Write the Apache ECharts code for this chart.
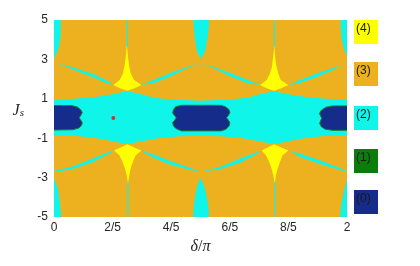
<!DOCTYPE html>
<html><head><meta charset="utf-8">
<script src="https://cdn.jsdelivr.net/npm/echarts@6/dist/echarts.min.js"></script>
<style>html,body{margin:0;padding:0;background:#fff}#c{width:420px;height:266px}</style>
</head><body><div id="c"></div>
<script>
// ---- data (x = delta/pi, y = J_s) ----
const X_TICKS = [0, 0.4, 0.8, 1.2, 1.6, 2];
const X_TICK_LABELS = ['0', '2/5', '4/5', '6/5', '8/5', '2'];
const Y_TICKS = [-5, -3, -1, 1, 3, 5];
const PHASE_LABELS = ['(4)', '(3)', '(2)', '(1)', '(0)'];

// phase (3): whole plane background
const PHASE3_AREA = [[[0,-5],[2,-5],[2,5],[0,5]]];

// phase (2): central band top and bottom boundaries
const BAND_TOP = [[0,0.93],[0.137,1.0],[0.273,1.08],[0.41,1.24],[0.47,1.35],[0.5,1.41],[0.53,1.35],[0.59,1.24],[0.683,1.05],[0.8,0.97],[1.0,0.9],[1.2,0.97],[1.32,1.05],[1.41,1.24],[1.47,1.35],[1.5,1.41],[1.53,1.35],[1.59,1.24],[1.73,1.08],[1.86,1.0],[2.0,0.95]];
const BAND_BOTTOM = [[0,-0.85],[0.137,-0.88],[0.273,-0.98],[0.41,-1.17],[0.47,-1.27],[0.5,-1.31],[0.53,-1.27],[0.59,-1.17],[0.73,-0.98],[0.86,-0.9],[1.0,-0.88],[1.14,-0.9],[1.27,-0.98],[1.41,-1.17],[1.47,-1.27],[1.5,-1.31],[1.53,-1.27],[1.59,-1.17],[1.73,-0.98],[1.86,-0.88],[2.0,-0.86]];
// phase (2): corner / edge pockets
const CYAN_TOP_LEFT = [[0,5],[0.047,5],[0.046,4.3],[0.042,3.98],[0.034,3.64],[0.018,3.31],[0,3.05]];
const CYAN_TOP_MID = [[0.951,5],[0.955,4.5],[0.962,3.98],[0.974,3.47],[0.988,3.22],[1.001,3.02],[1.019,3.22],[1.033,3.47],[1.046,3.98],[1.055,4.5],[1.06,5]];
const CYAN_TOP_RIGHT = [[2,5],[1.957,5],[1.958,4.5],[1.964,3.98],[1.982,3.47],[2,3.14]];
const CYAN_BOT_LEFT = [[0,-3.02],[0.027,-3.56],[0.04,-4.24],[0.05,-5],[0,-5]];
const CYAN_BOT_MID = [[0.951,-5],[0.953,-4.5],[0.962,-4.0],[0.974,-3.5],[0.988,-3.22],[1.0,-3.0],[1.013,-3.22],[1.028,-3.5],[1.043,-4.0],[1.055,-4.5],[1.058,-5]];
const CYAN_BOT_RIGHT = [[2,-3.05],[1.985,-3.5],[1.97,-4.0],[1.958,-4.5],[1.953,-5],[2,-5]];
// phase (2): thin slivers
const SLIVER_T1 = [[0,2.85],[0.137,2.58],[0.273,2.24],[0.364,1.92],[0.405,1.7],[0.364,1.78],[0.273,2.07],[0.137,2.46],[0.023,2.8]];
const SLIVER_T2 = [[0.596,1.7],[0.683,1.97],[0.79,2.3],[0.928,2.66],[1.0,2.8],[0.928,2.61],[0.79,2.12],[0.683,1.8],[0.62,1.72]];
const SLIVER_T3 = [[1.0,2.8],[1.072,2.66],[1.21,2.3],[1.32,1.97],[1.406,1.7],[1.38,1.72],[1.32,1.8],[1.21,2.12],[1.072,2.61]];
const SLIVER_T4 = [[1.602,1.7],[1.679,1.95],[1.793,2.29],[1.907,2.58],[2.0,2.83],[1.98,2.8],[1.907,2.48],[1.793,2.1],[1.679,1.8],[1.63,1.72]];
const SLIVER_B1 = [[0,-2.66],[0.137,-2.41],[0.273,-2.0],[0.364,-1.73],[0.414,-1.64],[0.364,-1.83],[0.273,-2.2],[0.137,-2.54],[0.023,-2.7]];
const SLIVER_B2 = [[0.596,-1.64],[0.683,-1.83],[0.79,-2.15],[0.928,-2.5],[1.0,-2.7],[0.928,-2.6],[0.79,-2.34],[0.683,-2.0],[0.62,-1.75]];
const SLIVER_B3 = [[1.0,-2.7],[1.133,-2.46],[1.27,-2.03],[1.361,-1.78],[1.418,-1.64],[1.361,-1.9],[1.27,-2.24],[1.133,-2.58]];
const SLIVER_B4 = [[1.6,-1.64],[1.679,-1.78],[1.816,-2.12],[1.952,-2.51],[2.0,-2.68],[1.98,-2.68],[1.952,-2.61],[1.816,-2.31],[1.679,-1.95],[1.63,-1.72]];
const LINE_T1 = [[0.496,3.6],[0.504,3.6],[0.504,5],[0.496,5]];
const LINE_T2 = [[1.5,3.6],[1.508,3.6],[1.508,5],[1.5,5]];
const LINE_B1 = [[0.501,-5],[0.509,-5],[0.509,-3.2],[0.501,-3.2]];
const LINE_B2 = [[1.503,-5],[1.511,-5],[1.511,-3.2],[1.503,-3.2]];

// phase (4): yellow cusped regions
const YELLOW_T1 = [[0.405,1.7],[0.448,1.95],[0.471,2.29],[0.48,2.63],[0.487,2.97],[0.492,3.31],[0.497,3.73],[0.503,3.31],[0.508,2.97],[0.514,2.63],[0.524,2.29],[0.547,1.95],[0.596,1.7],[0.55,1.54],[0.5,1.41],[0.45,1.54]];
const YELLOW_T2 = [[1.406,1.7],[1.452,1.95],[1.474,2.29],[1.488,2.63],[1.493,2.97],[1.499,3.31],[1.504,3.73],[1.508,3.31],[1.512,2.97],[1.519,2.63],[1.531,2.29],[1.547,1.95],[1.6,1.7],[1.552,1.54],[1.502,1.41],[1.452,1.54]];
const YELLOW_B1 = [[0.41,-1.63],[0.455,-1.47],[0.5,-1.31],[0.548,-1.47],[0.596,-1.63],[0.558,-1.86],[0.539,-2.2],[0.523,-2.54],[0.514,-2.88],[0.505,-3.3],[0.496,-2.88],[0.484,-2.54],[0.468,-2.2],[0.446,-1.86]];
const YELLOW_B2 = [[1.418,-1.63],[1.46,-1.47],[1.502,-1.31],[1.55,-1.47],[1.6,-1.63],[1.561,-1.86],[1.543,-2.2],[1.527,-2.54],[1.515,-2.88],[1.507,-3.3],[1.497,-2.88],[1.485,-2.54],[1.468,-2.2],[1.447,-1.86]];

// phase (0): dark blue islands (edged by phase (1))
const BLOB_LEFT = [[-0.03,0.66],[0.12,0.66],[0.16,0.58],[0.185,0.42],[0.193,0.3],[0.18,0.12],[0.172,0.04],[0.18,-0.05],[0.193,-0.2],[0.188,-0.35],[0.17,-0.48],[0.13,-0.57],[-0.03,-0.59]];
const BLOB_MID = [[0.87,0.67],[1.14,0.67],[1.17,0.6],[1.195,0.45],[1.201,0.3],[1.19,0.15],[1.178,0.04],[1.19,-0.08],[1.201,-0.22],[1.195,-0.38],[1.175,-0.54],[1.14,-0.63],[0.87,-0.63],[0.835,-0.52],[0.815,-0.38],[0.81,-0.2],[0.825,-0.08],[0.834,0.04],[0.822,0.15],[0.81,0.28],[0.815,0.45],[0.83,0.6]];
const BLOB_RIGHT = [[2.03,0.64],[1.9,0.64],[1.855,0.57],[1.825,0.42],[1.812,0.26],[1.82,0.12],[1.828,0.02],[1.82,-0.1],[1.813,-0.25],[1.825,-0.42],[1.85,-0.54],[1.9,-0.6],[2.03,-0.6]];

// marked point
const MARK_POINT = [[0.405, 0.03]];

// ---- styles ----
const C_ORANGE = '#EDB120', C_CYAN = '#10F5E9', C_YELLOW = '#FFFF00', C_GREEN = '#0B7D0B', C_BLUE = '#152C8A';
const PHASE_COLORS = [C_YELLOW, C_ORANGE, C_CYAN, C_GREEN, C_BLUE];
const TXT = '#262626';

function polySeries(shapes, fill, stroke) {
  return {
    type: 'custom', coordinateSystem: 'cartesian2d', clip: true, silent: true,
    data: shapes.map((s, i) => [1, 0, i]), encode: { x: 0, y: 1 },
    renderItem: (params, api) => {
      const pts = shapes[params.dataIndex].map(p => api.coord(p));
      return { type: 'polygon', shape: { points: pts },
        style: { fill: fill, stroke: stroke || null, lineWidth: stroke ? 1 : 0 } };
    }
  };
}
const band = BAND_TOP.concat(BAND_BOTTOM.slice().reverse());

const chart = echarts.init(document.getElementById('c'), null, { renderer: 'canvas' });
const legendGraphics = [];
const boxTops = [20, 62, 106, 149, 190];
PHASE_LABELS.forEach((lab, i) => {
  legendGraphics.push({ type: 'rect', left: 354, top: boxTops[i], shape: { width: 24, height: 24 }, style: { fill: PHASE_COLORS[i] } });
  legendGraphics.push({ type: 'text', left: 356, top: boxTops[i] + 3, style: { text: lab, font: '12px "Liberation Sans", Arial, sans-serif', fill: '#1a1a1a' } });
});

chart.setOption({
  animation: false,
  grid: { left: 54, right: 73, top: 20, bottom: 49 },
  xAxis: {
    type: 'value', min: 0, max: 2, interval: 0.4,
    axisLine: { show: false }, axisTick: { show: false }, splitLine: { show: false },
    axisLabel: { margin: 5, color: TXT, fontSize: 12, fontFamily: 'Liberation Sans, Arial, sans-serif',
      showMinLabel: true, showMaxLabel: true,
      formatter: v => { const k = X_TICKS.findIndex(t => Math.abs(t - v) < 1e-6); return k >= 0 ? X_TICK_LABELS[k] : ''; } },
    name: '{it|δ}{n|/}{it|π}', nameLocation: 'middle', nameGap: 21,
    nameTextStyle: { rich: {
      it: { fontFamily: 'Liberation Serif, DejaVu Serif, serif', fontStyle: 'italic', fontSize: 16, color: TXT },
      n: { fontFamily: 'Liberation Serif, DejaVu Serif, serif', fontSize: 16, color: TXT } } }
  },
  yAxis: {
    type: 'value', min: -5, max: 5, interval: 2,
    axisLine: { show: false }, axisTick: { show: false }, splitLine: { show: false },
    axisLabel: { margin: 6, color: TXT, fontSize: 12, fontFamily: 'Liberation Sans, Arial, sans-serif',
      formatter: v => (Y_TICKS.indexOf(v) >= 0 ? String(v) : '') },
    name: '{j|J}{s|s}', nameLocation: 'middle', nameRotate: 0, nameGap: 30,
    nameTextStyle: { padding: [0, 0, 16, 0], rich: {
      j: { fontFamily: 'Liberation Serif, DejaVu Serif, serif', fontStyle: 'italic', fontSize: 16, color: TXT },
      s: { fontFamily: 'Liberation Serif, DejaVu Serif, serif', fontStyle: 'italic', fontSize: 11, color: TXT, padding: [6, 0, 0, 0] } } }
  },
  graphic: legendGraphics,
  series: [
    polySeries(PHASE3_AREA, C_ORANGE),
    polySeries([band, CYAN_TOP_LEFT, CYAN_TOP_MID, CYAN_TOP_RIGHT, CYAN_BOT_LEFT, CYAN_BOT_MID, CYAN_BOT_RIGHT,
      SLIVER_T1, SLIVER_T2, SLIVER_T3, SLIVER_T4, SLIVER_B1, SLIVER_B2, SLIVER_B3, SLIVER_B4,
      LINE_T1, LINE_T2, LINE_B1, LINE_B2], C_CYAN),
    polySeries([YELLOW_T1, YELLOW_T2, YELLOW_B1, YELLOW_B2], C_YELLOW),
    polySeries([BLOB_LEFT, BLOB_MID, BLOB_RIGHT], C_BLUE, '#1F7F2A'),
    { type: 'scatter', data: MARK_POINT, symbol: 'circle', symbolSize: 4, itemStyle: { color: '#FF0000' }, silent: true }
  ]
});
</script></body></html>
